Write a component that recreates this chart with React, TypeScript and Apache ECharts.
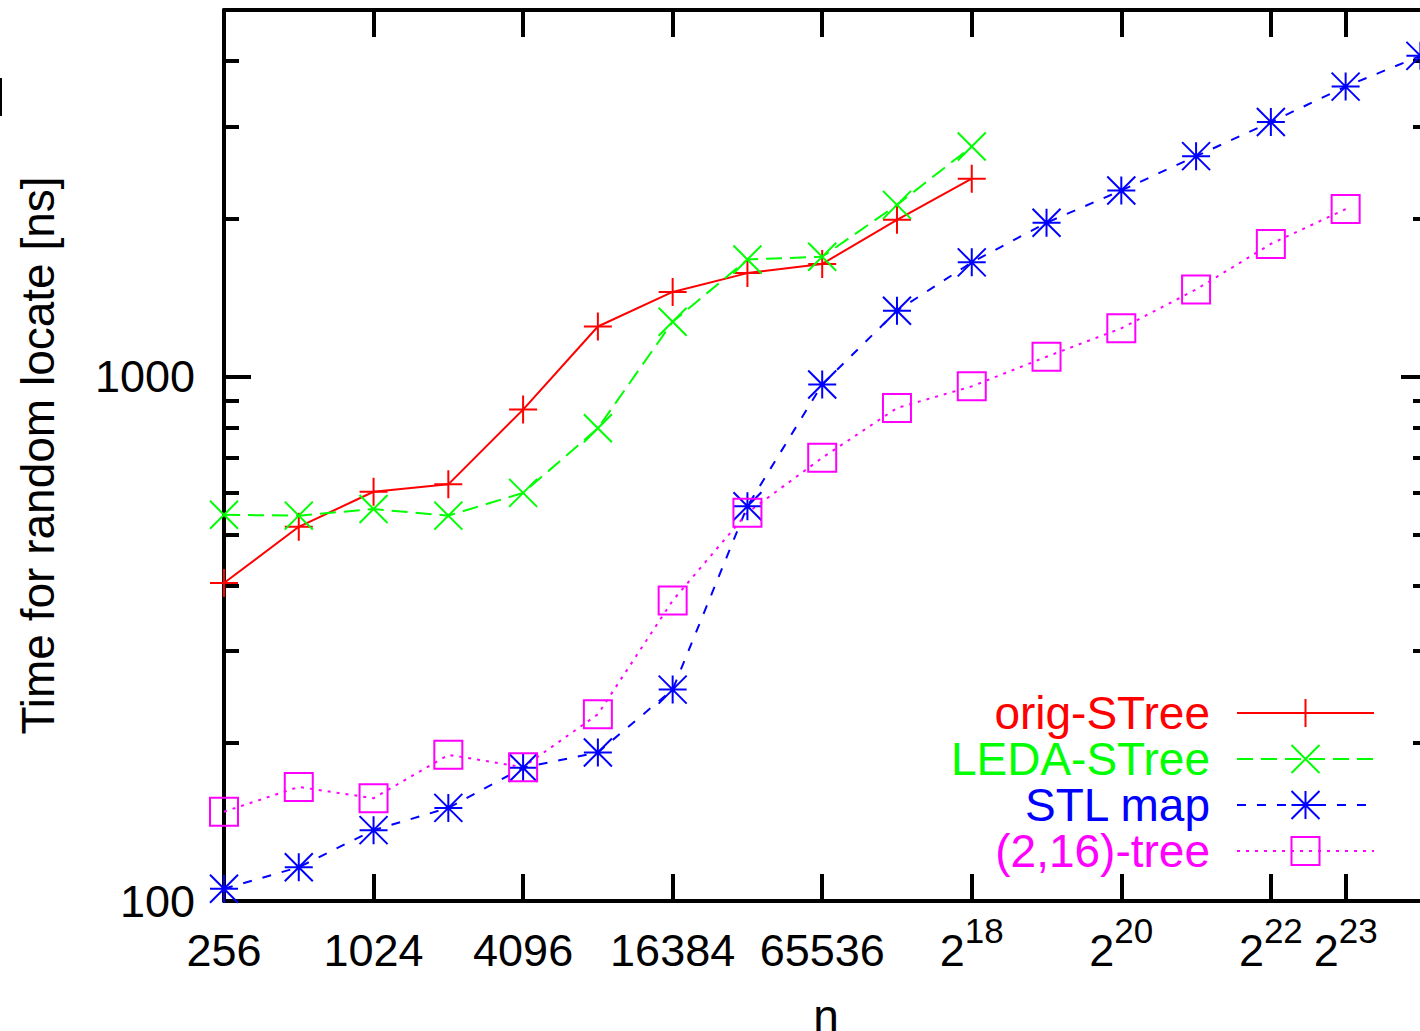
import React, { useEffect, useRef } from "react";
import * as echarts from "echarts";

const FONT = "'Liberation Sans', Arial, Helvetica, sans-serif";

const nValues = [256, 512, 1024, 2048, 4096, 8192, 16384, 32768, 65536, 131072, 262144, 524288, 1048576, 2097152, 4194304, 8388608, 16777216];

const origSTree = [404, 517, 603, 623, 865, 1246, 1450, 1575, 1640, 1990, 2384];
const ledaSTree = [545, 543, 559, 543, 600, 797, 1272, 1672, 1692, 2125, 2745];
const stlMap = [105.5, 116, 136.5, 150.5, 179.5, 192, 253, 566, 966, 1335, 1651, 1965, 2264, 2632, 3057, 3572, 4088];
const tree216 = [148, 165, 157, 190, 180, 227, 374, 550, 700, 871, 958, 1091, 1236, 1466, 1790, 2086];

const xTickValues = [256, 1024, 4096, 16384, 65536, 262144, 1048576, 4194304, 8388608];
const xTickLabels = ["256", "1024", "4096", "16384", "65536", "2^18", "2^20", "2^22", "2^23"];
const yMajorTicks = [100, 1000];
const yMinorTicks = [200, 300, 400, 500, 600, 700, 800, 900, 2000, 3000, 4000];

const seriesNames = ["orig-STree", "LEDA-STree", "STL map", "(2,16)-tree"];
const seriesColors = ["#ff0000", "#00ff00", "#0000ff", "#ff00ff"];
const seriesValues = [origSTree, ledaSTree, stlMap, tree216];
const seriesDash: any[] = ["solid", [16, 8], [9, 11], [3, 6]];
const seriesSymbols = [
  "path://M10,0 L10,20 M0,10 L20,10",
  "path://M0,0 L20,20 M20,0 L0,20",
  "path://M10,0 L10,20 M0,10 L20,10 M0,0 L20,20 M20,0 L0,20",
  "path://M0,0 L20,0 L20,20 L0,20 Z",
];
const legendTops = [690, 736, 782, 828];

const X_MIN = 256;
const X_MAX = 18000000;
const Y_MIN = 100;
const Y_MAX = 5000;

function xLabel(value: number): string {
  let idx = -1;
  for (let i = 0; i < xTickValues.length; i++) {
    if (Math.abs(Math.log2(xTickValues[i]) - Math.log2(value)) < 1e-6) idx = i;
  }
  if (idx < 0) return "";
  const lab = xTickLabels[idx];
  if (lab.startsWith("2^")) return `{b|2}{s|${lab.slice(2)}}`;
  return `{b|${lab}}`;
}

export default function App() {
  const ref = useRef<HTMLDivElement>(null);

  useEffect(() => {
    if (!ref.current) return;
    const chart = echarts.init(ref.current, null, { renderer: "svg" });

    const frame = { show: true, lineStyle: { color: "#000", width: 4 } };
    const gridPos = { left: 224, right: -8, top: 10, bottom: 130, containLabel: false, outerBoundsMode: "none" };

    const option: any = {
      animation: false,
      backgroundColor: "#fff",
      grid: [gridPos, { ...gridPos }],
      xAxis: [
        {
          gridIndex: 0,
          type: "log",
          logBase: 2,
          min: X_MIN,
          max: X_MAX,
          position: "bottom",
          axisLine: frame,
          axisTick: { show: true, inside: true, length: 27, lineStyle: { color: "#000", width: 4 }, customValues: xTickValues },
          axisLabel: {
            show: true,
            customValues: xTickValues,
            margin: 12,
            hideOverlap: false,
            formatter: (v: number) => xLabel(v),
            rich: {
              b: { fontSize: 45, lineHeight: 75, fontFamily: FONT, color: "#000" },
              s: { fontSize: 35, lineHeight: 35, padding: [0, 0, 40, 0], fontFamily: FONT, color: "#000" },
            },
          },
          splitLine: { show: false },
          minorTick: { show: false },
          name: "n",
          nameLocation: "middle",
          nameGap: 86,
          nameTextStyle: { fontSize: 46, lineHeight: 40, fontFamily: FONT, color: "#000" },
        },
        {
          gridIndex: 0,
          type: "log",
          logBase: 2,
          min: X_MIN,
          max: X_MAX,
          position: "top",
          axisLine: frame,
          axisTick: { show: true, inside: true, length: 27, lineStyle: { color: "#000", width: 4 }, customValues: xTickValues },
          axisLabel: { show: false },
          splitLine: { show: false },
        },
        {
          gridIndex: 1,
          type: "log",
          logBase: 2,
          min: X_MIN,
          max: X_MAX,
          show: false,
        },
      ],
      yAxis: [
        {
          gridIndex: 0,
          type: "log",
          logBase: 10,
          min: Y_MIN,
          max: Y_MAX,
          position: "left",
          axisLine: frame,
          axisTick: { show: true, inside: true, length: 27, lineStyle: { color: "#000", width: 4 }, customValues: yMajorTicks },
          axisLabel: {
            show: true,
            customValues: yMajorTicks,
            margin: 29,
            fontSize: 45,
            fontFamily: FONT,
            color: "#000",
            formatter: (v: number) => String(Math.round(v)),
          },
          splitLine: { show: false },
          name: "Time for random locate [ns]",
          nameLocation: "middle",
          nameGap: 163,
          nameRotate: 90,
          nameTextStyle: { fontSize: 46, fontFamily: FONT, color: "#000" },
        },
        {
          gridIndex: 0,
          type: "log",
          logBase: 10,
          min: Y_MIN,
          max: Y_MAX,
          position: "right",
          axisLine: frame,
          axisTick: { show: true, inside: true, length: 27, lineStyle: { color: "#000", width: 4 }, customValues: yMajorTicks },
          axisLabel: { show: false },
          splitLine: { show: false },
        },
        {
          gridIndex: 1,
          type: "log",
          logBase: 10,
          min: Y_MIN,
          max: Y_MAX,
          position: "left",
          axisLine: { show: false },
          axisTick: { show: true, inside: true, length: 15, lineStyle: { color: "#000", width: 4 }, customValues: yMinorTicks },
          axisLabel: { show: false },
          splitLine: { show: false },
        },
        {
          gridIndex: 1,
          type: "log",
          logBase: 10,
          min: Y_MIN,
          max: Y_MAX,
          position: "right",
          axisLine: { show: false },
          axisTick: { show: true, inside: true, length: 15, lineStyle: { color: "#000", width: 4 }, customValues: yMinorTicks },
          axisLabel: { show: false },
          splitLine: { show: false },
        },
      ],
      legend: seriesNames.map((name, i) => ({
        data: [name],
        orient: "vertical",
        align: "right",
        right: 45,
        top: legendTops[i],
        padding: 0,
        itemWidth: 137,
        itemHeight: 35,
        itemGap: 0,
        selectedMode: false,
        textStyle: { color: seriesColors[i], fontSize: 46, lineHeight: 42, fontFamily: FONT, padding: [0, 22, 0, 0] },
      })),
      graphic: [
        { type: "rect", left: 0, top: 78, shape: { width: 2, height: 38 }, style: { fill: "#000" } },
      ],
      series: seriesNames.map((name, i) => ({
        name,
        type: "line",
        xAxisIndex: 0,
        yAxisIndex: 0,
        data: seriesValues[i].map((v, j) => [nValues[j], v]),
        symbol: seriesSymbols[i],
        symbolSize: 28,
        showAllSymbol: true,
        clip: false,
        itemStyle: { color: "rgba(0,0,0,0)", borderColor: seriesColors[i], borderWidth: 2 },
        lineStyle: { color: seriesColors[i], width: 2, type: seriesDash[i] },
        emphasis: { disabled: true },
        z: 3,
      })),
    };

    chart.setOption(option);
    return () => chart.dispose();
  }, []);

  return (
    <div
      ref={ref}
      style={{ position: "fixed", left: 0, top: 0, width: 1420, height: 1031, background: "#fff" }}
    />
  );
}
